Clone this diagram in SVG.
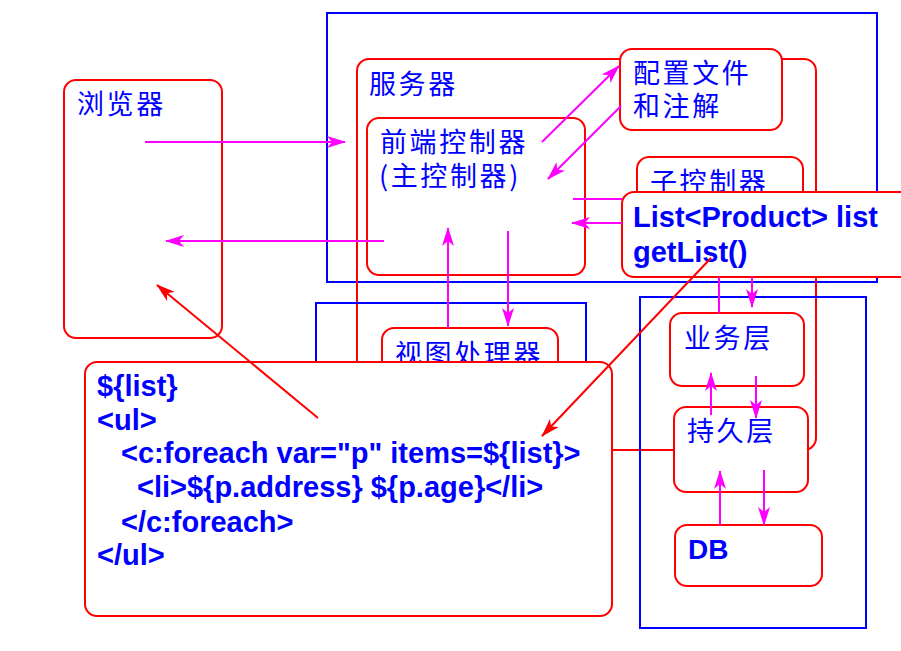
<svg xmlns="http://www.w3.org/2000/svg" width="901" height="651" viewBox="0 0 901 651">
<style>
.bg{fill:#ffffff}
.blue{fill:none;stroke:#0000ff;stroke-width:2}
.box{fill:#ffffff;stroke:#ff0000;stroke-width:2}
.open{fill:none;stroke:#ff0000;stroke-width:2}
.cn{font-family:"Noto Sans CJK SC","Liberation Sans",sans-serif;font-size:27px;fill:#0000ff;letter-spacing:2.6px}
.code{font-family:"Liberation Sans",Arial,sans-serif;font-size:29px;font-weight:bold;fill:#0000ff}
.m{fill:none;stroke:#ff00ff;stroke-width:2}
.r{fill:none;stroke:#ff0000;stroke-width:2}
</style>
<defs>
<marker id="am" viewBox="0 0 19 12" refX="18" refY="6" markerWidth="19" markerHeight="12" markerUnits="userSpaceOnUse" orient="auto">
<path d="M0,0 L19,6 L0,12 L5,6 Z" fill="#ff00ff"/>
</marker>
<marker id="ar" viewBox="0 0 19 12" refX="18" refY="6" markerWidth="19" markerHeight="12" markerUnits="userSpaceOnUse" orient="auto">
<path d="M0,0 L19,6 L0,12 L5,6 Z" fill="#ff0000"/>
</marker>
</defs>
<rect class="bg" x="0" y="0" width="901" height="651"/>

<g id="server-env">
<rect class="blue" x="327" y="13" width="550" height="269"/>
</g>
<g id="server">
<rect class="open" x="357" y="59" width="459" height="391" rx="12"/>
<text class="cn" x="369" y="94">服务器</text>
</g>
<g id="browser">
<rect class="box" x="64" y="80" width="158" height="258" rx="12"/>
<text class="cn" x="77" y="114">浏览器</text>
</g>
<g id="front-controller">
<rect class="box" x="367" y="118" width="218" height="157" rx="12"/>
<text class="cn" x="380" y="152">前端控制器</text>
<text class="cn" x="379" y="186">(主控制器)</text>
</g>
<g id="config">
<rect class="box" x="620" y="49" width="162" height="81" rx="12"/>
<text class="cn" x="633" y="83">配置文件</text>
<text class="cn" x="633" y="116">和注解</text>
</g>
<g id="sub-controller">
<rect class="box" x="637" y="157" width="166" height="60" rx="12"/>
<text class="cn" x="650" y="192">子控制器</text>
</g>
<g id="getlist">
<rect class="box" x="622" y="192" width="300" height="85" rx="12"/>
<text class="code" x="633" y="227">List&lt;Product&gt; list</text>
<text class="code" x="633" y="262">getList()</text>
</g>
<g id="view-env">
<rect class="blue" x="316" y="303" width="270" height="80"/>
</g>
<g id="view-handler">
<rect class="box" x="382" y="328" width="176" height="60" rx="12"/>
<text class="cn" x="395" y="364">视图处理器</text>
</g>
<g id="data-env">
<rect class="blue" x="640" y="297" width="226" height="331"/>
</g>
<g id="service">
<rect class="box" x="670" y="313" width="134" height="73" rx="12"/>
<text class="cn" x="684" y="348">业务层</text>
</g>
<g id="persistence">
<rect class="box" x="674" y="407" width="134" height="85" rx="12"/>
<text class="cn" x="687" y="441">持久层</text>
</g>
<g id="db">
<rect class="box" x="675" y="525" width="147" height="61" rx="12"/>
<text class="code" x="688" y="559" style="font-size:28px">DB</text>
</g>
<g id="jsp">
<rect class="box" x="85" y="362" width="527" height="254" rx="12"/>
<text class="code" x="97" y="396">${list}</text>
<text class="code" x="97" y="429.5">&lt;ul&gt;</text>
<text class="code" x="121" y="463">&lt;c:foreach var="p" items=${list}&gt;</text>
<text class="code" x="137" y="497">&lt;li&gt;${p.address} ${p.age}&lt;/li&gt;</text>
<text class="code" x="121" y="531.5">&lt;/c:foreach&gt;</text>
<text class="code" x="97" y="565">&lt;/ul&gt;</text>
</g>

<g id="connectors">
<path class="m" d="M145,142 H345" marker-end="url(#am)"/>
<path class="m" d="M384,241 H166" marker-end="url(#am)"/>
<path class="m" d="M542,142 L619,66" marker-end="url(#am)"/>
<path class="m" d="M621,106 L548,179" marker-end="url(#am)"/>
<path class="m" d="M573,199 H622"/>
<path class="m" d="M622,223 H572" marker-end="url(#am)"/>
<path class="m" d="M448,328 V228" marker-end="url(#am)"/>
<path class="m" d="M508,231 V326" marker-end="url(#am)"/>
<path class="m" d="M719,277 V313"/>
<path class="m" d="M752,277 V307" marker-end="url(#am)"/>
<path class="m" d="M711,415 V373" marker-end="url(#am)"/>
<path class="m" d="M756,376 V418" marker-end="url(#am)"/>
<path class="m" d="M720,525 V471" marker-end="url(#am)"/>
<path class="m" d="M764,470 V525" marker-end="url(#am)"/>
<path class="r" d="M318,418 L157,285" marker-end="url(#ar)"/>
<path class="r" d="M711,258 L542,436" marker-end="url(#ar)"/>
</g>
</svg>
